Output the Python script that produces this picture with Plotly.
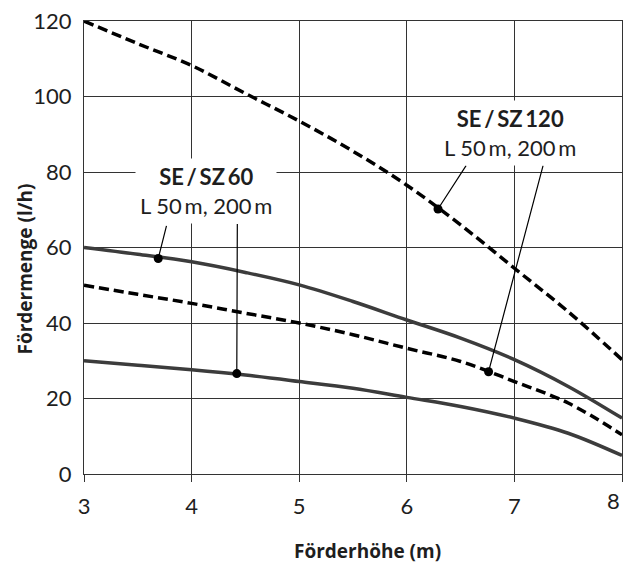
import plotly.graph_objects as go

# Förderhöhe (m)
head = [3, 3.5, 4, 4.5, 5, 5.5, 6, 6.5, 7, 7.5, 8]

# SE/SZ120 curves (dashed)
sz120_50m = [120, 114, 108.2, 100.8, 93.5, 85.5, 76.5, 66.0, 54.5, 43.0, 30.3]
sz120_200m = [50, 47.6, 45.2, 42.6, 40.0, 36.9, 33.3, 29.8, 24.5, 18.8, 10.4]

# SE/SZ60 curves (solid)
sz60_50m = [60, 58.2, 56.2, 53.4, 50.1, 45.7, 40.8, 36.0, 30.3, 23.2, 14.8]
sz60_200m = [30, 28.8, 27.6, 26.2, 24.5, 22.7, 20.3, 17.9, 14.8, 10.8, 4.9]

# labelled points (marker positions on the curves)
mark_x = [3.69, 4.42, 6.29, 6.76]
mark_y = [57.1, 26.6, 70.2, 27.1]

# leader tails (label side)
tail_x = [3.77, 4.425, 6.56, 7.27]
tail_y = [66.1, 66.6, 82.1, 82.1]

# label texts and anchor positions
labels = ["<b>SE\u2009/\u2009SZ\u200960</b><br>L 50\u2009m, 200\u2009m",
          "<b>SE\u2009/\u2009SZ\u2009120</b><br>L 50\u2009m, 200\u2009m"]
label_x = [4.137, 6.955]
label_y = [74.9, 90.4]

x_ticks = [3, 4, 5, 6, 7, 8]
x_ticktext = ["3", "4", "5", "6", "7", ""]   # last label drawn right-aligned below
last_x_label = "8"
y_ticks = [0, 20, 40, 60, 80, 100, 120]

FONT = "Lato"
TITLE_FONT = "Open Sans"
TXT = "#1e1e1e"

fig = go.Figure()
dash_style = dict(color="#000000", width=3.5, dash="10px,5px")
solid_style = dict(color="#3c3c3c", width=3.5)

fig.add_trace(go.Scatter(x=head, y=sz120_50m, mode="lines", line=dash_style,
                         line_shape="spline", showlegend=False, hoverinfo="skip"))
fig.add_trace(go.Scatter(x=head, y=sz120_200m, mode="lines", line=dash_style,
                         line_shape="spline", showlegend=False, hoverinfo="skip"))
fig.add_trace(go.Scatter(x=head, y=sz60_50m, mode="lines", line=solid_style,
                         line_shape="spline", showlegend=False, hoverinfo="skip"))
fig.add_trace(go.Scatter(x=head, y=sz60_200m, mode="lines", line=solid_style,
                         line_shape="spline", showlegend=False, hoverinfo="skip"))
fig.add_trace(go.Scatter(x=mark_x, y=mark_y, mode="markers",
                         marker=dict(color="#000000", size=9),
                         showlegend=False, hoverinfo="skip"))

for mx, my, tx, ty in zip(mark_x, mark_y, tail_x, tail_y):
    fig.add_annotation(x=mx, y=my, ax=tx, ay=ty, axref="x", ayref="y",
                       xref="x", yref="y", text="", showarrow=True,
                       arrowhead=0, arrowwidth=1.2, arrowcolor="#000000",
                       standoff=0, startstandoff=0)

for txt, lx, ly in zip(labels, label_x, label_y):
    fig.add_annotation(x=lx, y=ly, xref="x", yref="y", text=txt, showarrow=False,
                       font=dict(family=FONT, size=22, color=TXT),
                       bgcolor="#ffffff", borderpad=4, align="center")

# last x tick label, right-aligned to the axis end so it stays in view
fig.add_annotation(x=x_ticks[-1], y=0, xref="x", yref="y", text=last_x_label,
                   showarrow=False, xanchor="right", yanchor="middle", yshift=-26,
                   font=dict(family=FONT, size=22, color=TXT))

# axis titles as annotations (placed like the reference)
fig.add_annotation(x=0.527, y=-0.1706, xref="paper", yref="paper",
                   xanchor="center", yanchor="middle",
                   text="<b>Förderhöhe (m)</b>", showarrow=False,
                   font=dict(family=TITLE_FONT, size=19, color=TXT))
fig.add_annotation(x=-0.1105, y=0.4526, xref="paper", yref="paper",
                   xanchor="center", yanchor="middle",
                   text="<b>Fördermenge (l/h)</b>", showarrow=False, textangle=-90,
                   font=dict(family=TITLE_FONT, size=19, color=TXT))

fig.update_layout(
    width=616, height=555,
    margin=dict(l=75.5, r=2, t=12.7, b=88.7),
    paper_bgcolor="#ffffff", plot_bgcolor="#ffffff",
    font=dict(family=FONT, color=TXT),
)
fig.update_xaxes(range=[3, 8], tickvals=x_ticks, ticktext=x_ticktext,
                 showgrid=True, gridcolor="#333333",
                 gridwidth=1.2, zeroline=False, showline=True, linecolor="#333333",
                 linewidth=1.2, mirror=True, ticks="outside", ticklen=7,
                 ticklabelstandoff=5,
                 tickcolor="#333333", tickfont=dict(size=22, family=FONT),
                 ticklabeloverflow="allow", automargin=False)
fig.update_yaxes(range=[0, 120], tickvals=y_ticks, showgrid=True, gridcolor="#333333",
                 gridwidth=1.2, zeroline=False, showline=True, linecolor="#333333",
                 linewidth=1.2, mirror=True, ticks="outside", ticklen=7,
                 tickcolor="rgba(0,0,0,0)",
                 tickfont=dict(size=22, family=FONT),
                 ticklabeloverflow="allow", automargin=False)

fig.write_html("out.html")
